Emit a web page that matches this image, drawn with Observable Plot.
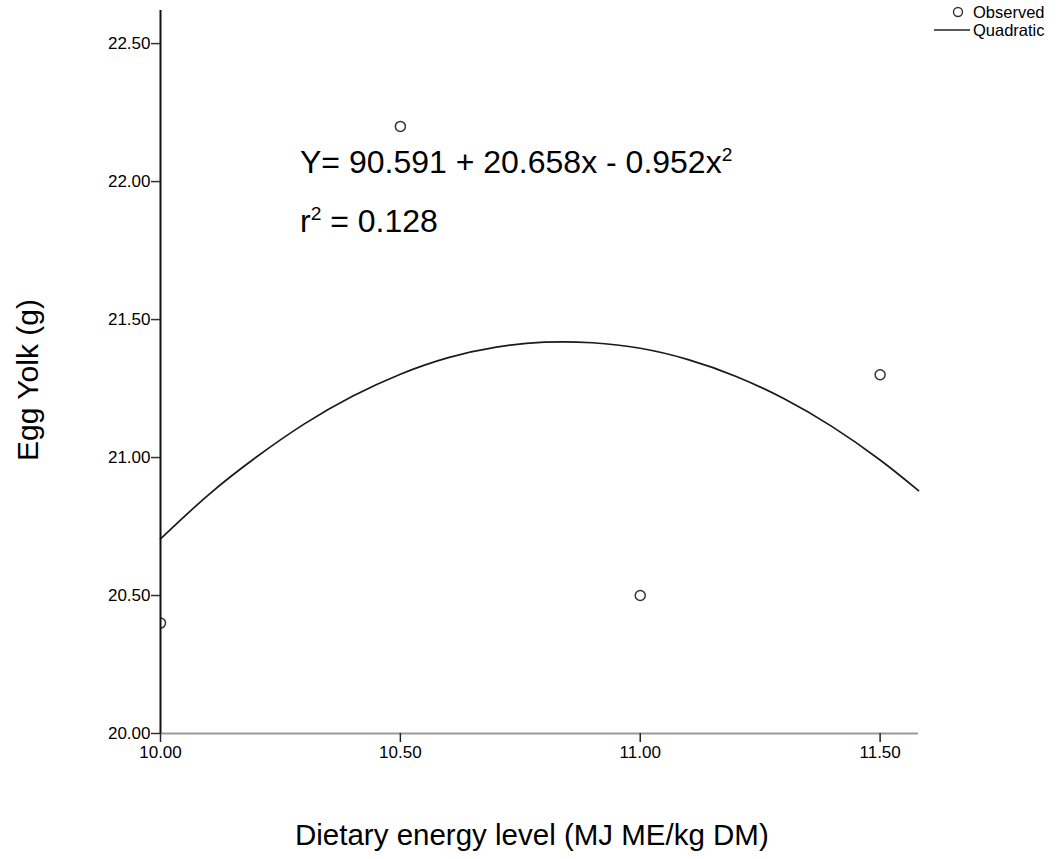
<!DOCTYPE html>
<html>
<head>
<meta charset="utf-8">
<script src="https://cdn.jsdelivr.net/npm/d3@7"></script>
<script src="https://cdn.jsdelivr.net/npm/@observablehq/plot@0.6"></script>
<style>
  html, body { margin: 0; padding: 0; background: #fff; }
  #wrap { position: relative; width: 1063px; height: 859px; font-family: "Liberation Sans", Arial, sans-serif; color: #000; }
  #wrap > svg { position: absolute; left: 0; top: 0; }
  .ann { position: absolute; white-space: nowrap; line-height: 1; }
  .ann sup { font-size: 0.6em; vertical-align: 0.6em; line-height: 0; }
  #eq1 { left: 300px; top: 146px; font-size: 32px; }
  #eq2 { left: 300px; top: 205px; font-size: 32px; }
  #xtitle { left: 295px; top: 820px; font-size: 29.5px; }
  #legend { position: absolute; left: 930px; top: 3px; font-size: 16.5px; }
  #legend .row { display: flex; align-items: center; height: 18px; }
  #legend svg { margin-right: 3px; }
</style>
</head>
<body>
<div id="wrap">
  <div class="ann" id="eq1">Y= 90.591 + 20.658x - 0.952x<sup>2</sup></div>
  <div class="ann" id="eq2">r<sup>2</sup> = 0.128</div>
  <div class="ann" id="xtitle">Dietary energy level (MJ ME/kg DM)</div>
  <div id="legend">
    <div class="row"><svg width="40" height="14"><circle cx="28" cy="7" r="4.5" fill="none" stroke="#333" stroke-width="1.4"/></svg>Observed</div>
    <div class="row"><svg width="40" height="14"><line x1="4" y1="7" x2="40" y2="7" stroke="#222" stroke-width="1.6"/></svg>Quadratic</div>
  </div>
</div>
<script>
// Observed values
const obsEnergy = [10.0, 10.5, 11.0, 11.5];
const obsYolk = [20.40, 22.20, 20.50, 21.30];

// Quadratic fit curve
const fitEnergy = [10.00, 10.10, 10.20, 10.30, 10.40, 10.50, 10.60, 10.70, 10.80, 10.90, 11.00, 11.10, 11.20, 11.30, 11.40, 11.50, 11.58];
const fitYolk   = [20.705, 20.865, 21.002, 21.122, 21.222, 21.302, 21.362, 21.400, 21.418, 21.416, 21.396, 21.355, 21.294, 21.213, 21.112, 20.991, 20.880];

// Tick labels
const xTicks = [10.0, 10.5, 11.0, 11.5];
const yTicks = [20.0, 20.5, 21.0, 21.5, 22.0, 22.5];

const obs = obsEnergy.map((x, i) => ({x, y: obsYolk[i]}));
const fit = fitEnergy.map((x, i) => ({x, y: fitYolk[i]}));

const chart = Plot.plot({
  width: 1063,
  height: 859,
  marginLeft: 160,
  marginRight: 145,
  marginTop: 10,
  marginBottom: 126,
  style: {fontFamily: "Liberation Sans, Arial, sans-serif", fontSize: "17px", color: "#000", background: "transparent"},
  x: {domain: [10, 11.58]},
  y: {domain: [20, 22.62]},
  marks: [
    Plot.line(fit, {x: "x", y: "y", curve: "natural", stroke: "#1a1a1a", strokeWidth: 1.7}),
    Plot.dot(obs, {x: "x", y: "y", r: 5, stroke: "#333", strokeWidth: 1.5, fill: "white", clip: true}),
    Plot.ruleY([20], {stroke: "#9a9a9a", strokeWidth: 2}),
    Plot.ruleX([10], {stroke: "#111", strokeWidth: 2}),
    Plot.axisX({ticks: xTicks, tickFormat: d3.format(".2f"), tickSize: 9, tickPadding: 3, label: null, stroke: "#222", strokeWidth: 1.5, fontSize: 17}),
    Plot.axisY({ticks: yTicks, tickFormat: d3.format(".2f"), tickSize: 9, tickPadding: 1, label: null, stroke: "#333", strokeWidth: 1.5, fontSize: 17}),
    Plot.text(["Egg Yolk (g)"], {frameAnchor: "left", textAnchor: "middle", lineAnchor: "middle", dx: -132, dy: 8, rotate: -90, fontSize: 30, fill: "#000"})
  ]
});
document.getElementById("wrap").prepend(chart);
</script>
</body>
</html>
